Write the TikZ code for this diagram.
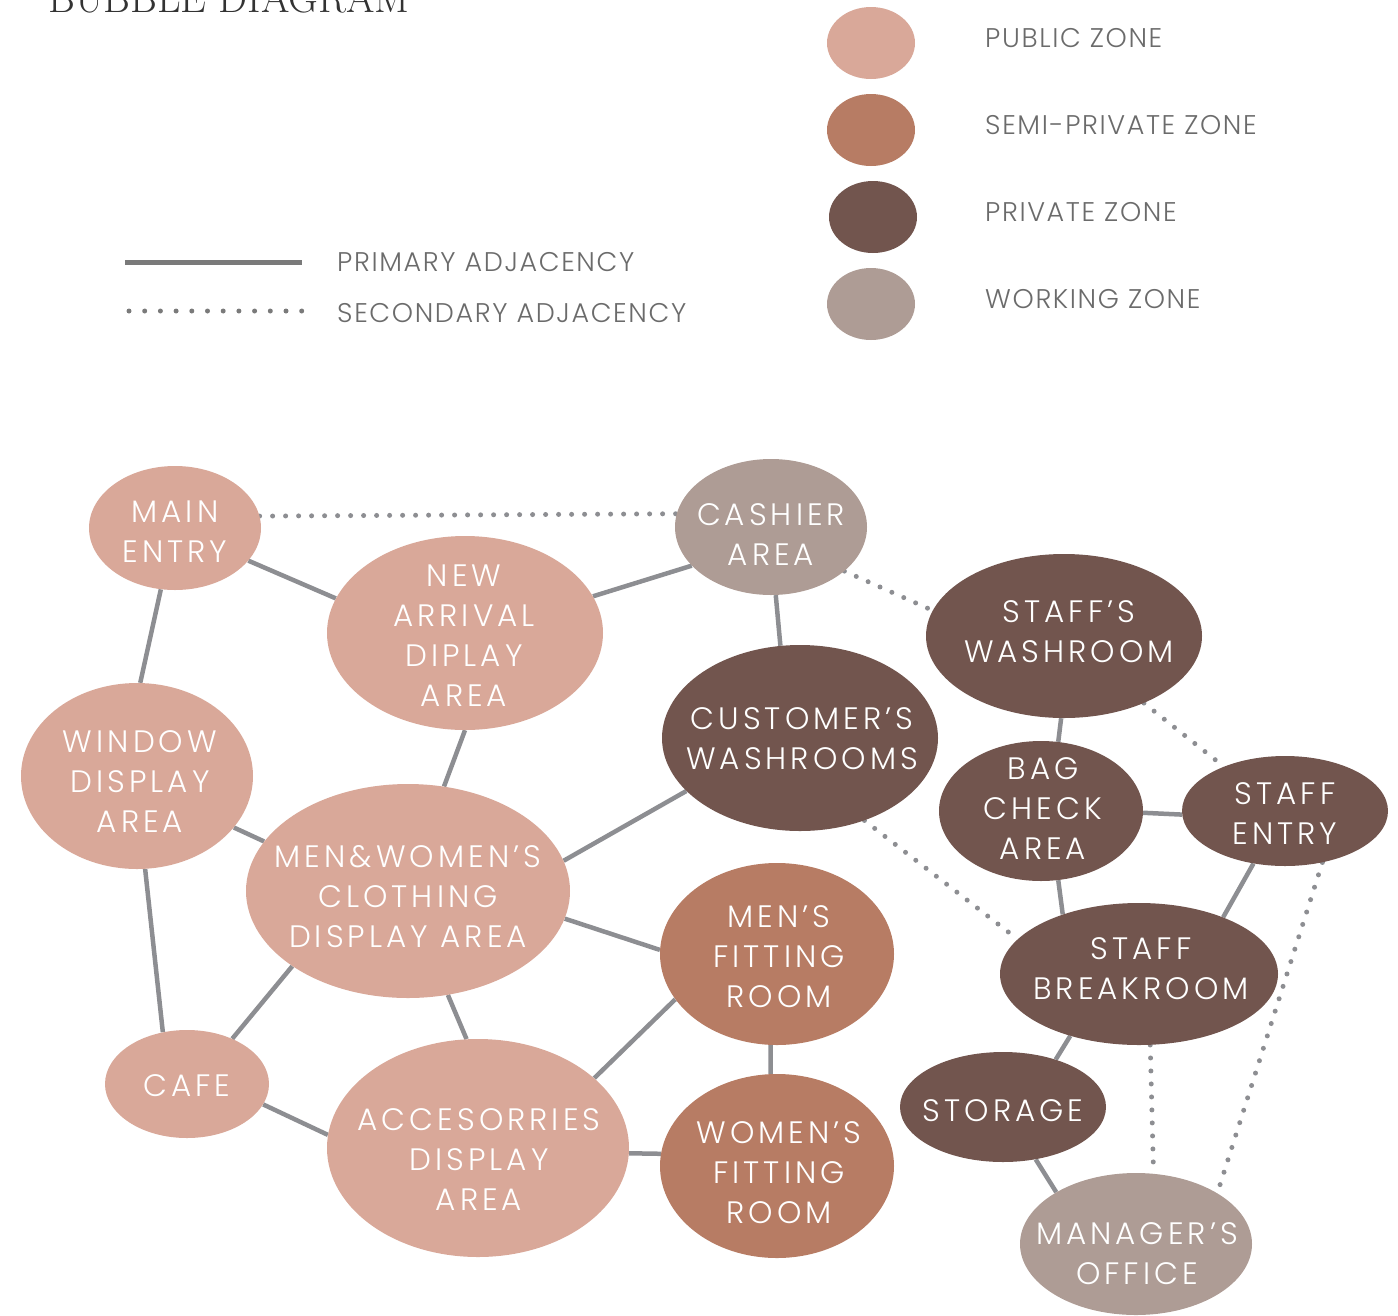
\documentclass[tikz,border=0pt]{standalone}
\usepackage{fontspec}
\usetikzlibrary{shapes.geometric,backgrounds}
\newfontfamily\gfont{Poppins Light}[LetterSpace=13]
\newfontfamily\lfont{Poppins Light}[LetterSpace=6]
\definecolor{pubc}{HTML}{D9A899}
\definecolor{semc}{HTML}{B77C64}
\definecolor{prvc}{HTML}{72554E}
\definecolor{wrkc}{HTML}{AE9C95}
\definecolor{linec}{HTML}{8D8E92}
\definecolor{legc}{HTML}{6B6B6B}
\definecolor{titc}{HTML}{333333}
\tikzset{
  bubble/.style={ellipse, inner sep=0pt, draw=none},
  btext/.style={text=white, align=center, font=\gfont\fontsize{31}{40}\selectfont, inner sep=0pt},
  legtext/.style={text=legc, anchor=base west, font=\lfont\fontsize{27}{30}\selectfont, inner sep=0pt},
  prim/.style={draw=linec, line width=4.5pt},
  secd/.style={draw=linec, line width=5pt, line cap=round, dash pattern=on 0pt off 13pt},
}
\newcommand\mybub[9]{%
  \node[bubble, fill=#6, minimum width=2*#4, minimum height=2*#5] (#1) at (#2,#3) {};
  \node[btext, xshift=#8, yshift=-#9] (#1-t) at (#1.center) {#7};
}
\begin{document}
\begin{tikzpicture}[x=1pt,y=-1pt]
\useasboundingbox (0,0) rectangle (1398,1315);
% title
\node[anchor=base west, inner sep=0pt, text=titc, font=\rmfamily\addfontfeatures{LetterSpace=9}\fontsize{41}{44}\selectfont] (title) at (48,12) {BUBBLE DIAGRAM};
% legend
\node[bubble, fill=pubc, minimum width=88, minimum height=72] (lpub) at (871,43) {};
\node[bubble, fill=semc, minimum width=88, minimum height=72] (lsem) at (871,130) {};
\node[bubble, fill=prvc, minimum width=88, minimum height=72] (lprv) at (873,217) {};
\node[bubble, fill=wrkc, minimum width=88, minimum height=72] (lwrk) at (871,304) {};
\node[legtext] (tpub) at (985,47) {PUBLIC ZONE};
\node[legtext] (tsem) at (985,134) {SEMI-PRIVATE ZONE};
\node[legtext] (tprv) at (985,221) {PRIVATE ZONE};
\node[legtext] (twrk) at (985,308) {WORKING ZONE};
\draw[draw=legc!90, line width=5pt] (125,262.5) -- (302,262.5);
\draw[draw=legc!90, line width=5pt, line cap=round, dash pattern=on 0pt off 15.7pt] (129,311) -- (303,311);
\node[legtext] (tprim) at (337,271) {PRIMARY ADJACENCY};
\node[legtext] (tsec) at (337,322) {SECONDARY ADJACENCY};
% bubbles
\mybub{me}{175}{528}{86}{62}{pubc}{MAIN\\ENTRY}{0pt}{4pt}
\mybub{ca}{771}{527}{96}{68}{wrkc}{CASHIER\\AREA}{0pt}{8pt}
\mybub{na}{465}{633}{138}{97}{pubc}{NEW\\ARRIVAL\\DIPLAY\\AREA}{-1pt}{3pt}
\mybub{wd}{137}{776}{116}{93}{pubc}{WINDOW\\DISPLAY\\AREA}{3pt}{6pt}
\mybub{cw}{800}{738}{138}{93}{prvc}{CUSTOMER’S\\WASHROOMS}{2pt}{1pt}
\mybub{sw}{1064}{636}{138}{82}{prvc}{STAFF’S\\WASHROOM}{5pt}{-4pt}
\mybub{bc}{1041}{811}{102}{70}{prvc}{BAG\\CHECK\\AREA}{2pt}{-2pt}
\mybub{se}{1285}{811}{103}{55}{prvc}{STAFF\\ENTRY}{0pt}{3pt}
\mybub{mw}{408}{891}{162}{107}{pubc}{MEN\&WOMEN’S\\CLOTHING\\DISPLAY AREA}{0pt}{6pt}
\mybub{mf}{777}{954}{117}{91}{semc}{MEN’S\\FITTING\\ROOM}{2pt}{3pt}
\mybub{br}{1139}{974}{139}{71}{prvc}{STAFF\\BREAKROOM}{2pt}{-5pt}
\mybub{cf}{187}{1084}{82}{54}{pubc}{CAFE}{0pt}{2pt}
\mybub{ac}{478}{1148}{151}{109}{pubc}{ACCESORRIES\\DISPLAY\\AREA}{1pt}{12pt}
\mybub{wf}{777}{1166}{117}{92}{semc}{WOMEN’S\\FITTING\\ROOM}{2pt}{7pt}
\mybub{st}{1003}{1107}{103}{55}{prvc}{STORAGE}{0pt}{4pt}
\mybub{mo}{1136}{1244}{116}{71}{wrkc}{MANAGER’S\\OFFICE}{1pt}{10pt}
% connectors
\begin{scope}[on background layer]
\draw[prim] (me.-24.6) -- (na.165.8);
\draw[prim] (me.-103.6) -- (wd.88);
\draw[prim] (ca.-154.9) -- (na.16.9);
\draw[prim] (ca.-86.6) -- (cw.102.5);
\draw[prim] (na.-90) -- (mw.71.6);
\draw[prim] (wd.-28.7) -- (mw.161.4);
\draw[prim] (wd.-85) -- (cf.115);
\draw[prim] (mw.11.4) -- (cw.-155);
\draw[prim] (mw.-10.7) -- (mf.178);
\draw[prim] (mw.-147.5) -- (cf.45.6);
\draw[prim] (mw.-69.4) -- (ac.96.9);
\draw[prim] (cf.-15) -- (ac.175);
\draw[prim] (ac.31.9) -- (mf.-156.3);
\draw[prim] (ac.-2.7) -- (wf.174.6);
\draw[prim] (mf.-94.4) -- (wf.94.4);
\draw[prim] (sw.-92.8) -- (bc.76);
\draw[prim] (bc.-1.7) -- (se.182.2);
\draw[prim] (bc.-76.5) -- (br.142.5);
\draw[prim] (se.-121.1) -- (br.34.5);
\draw[prim] (br.-138) -- (st.42.1);
\draw[prim] (st.-58.9) -- (mo.147.8);
\draw[secd] (me.8.5) -- (ca.172.9);
\draw[secd] (ca.-31.3) -- (sw.169.8);
\draw[secd] (sw.-40.4) -- (se.144.7);
\draw[secd] (cw.-52.1) -- (br.164.7);
\draw[secd] (br.-81.2) -- (mo.76.5);
\draw[secd] (se.-54) -- (mo.32);
\end{scope}
\end{tikzpicture}
\end{document}
